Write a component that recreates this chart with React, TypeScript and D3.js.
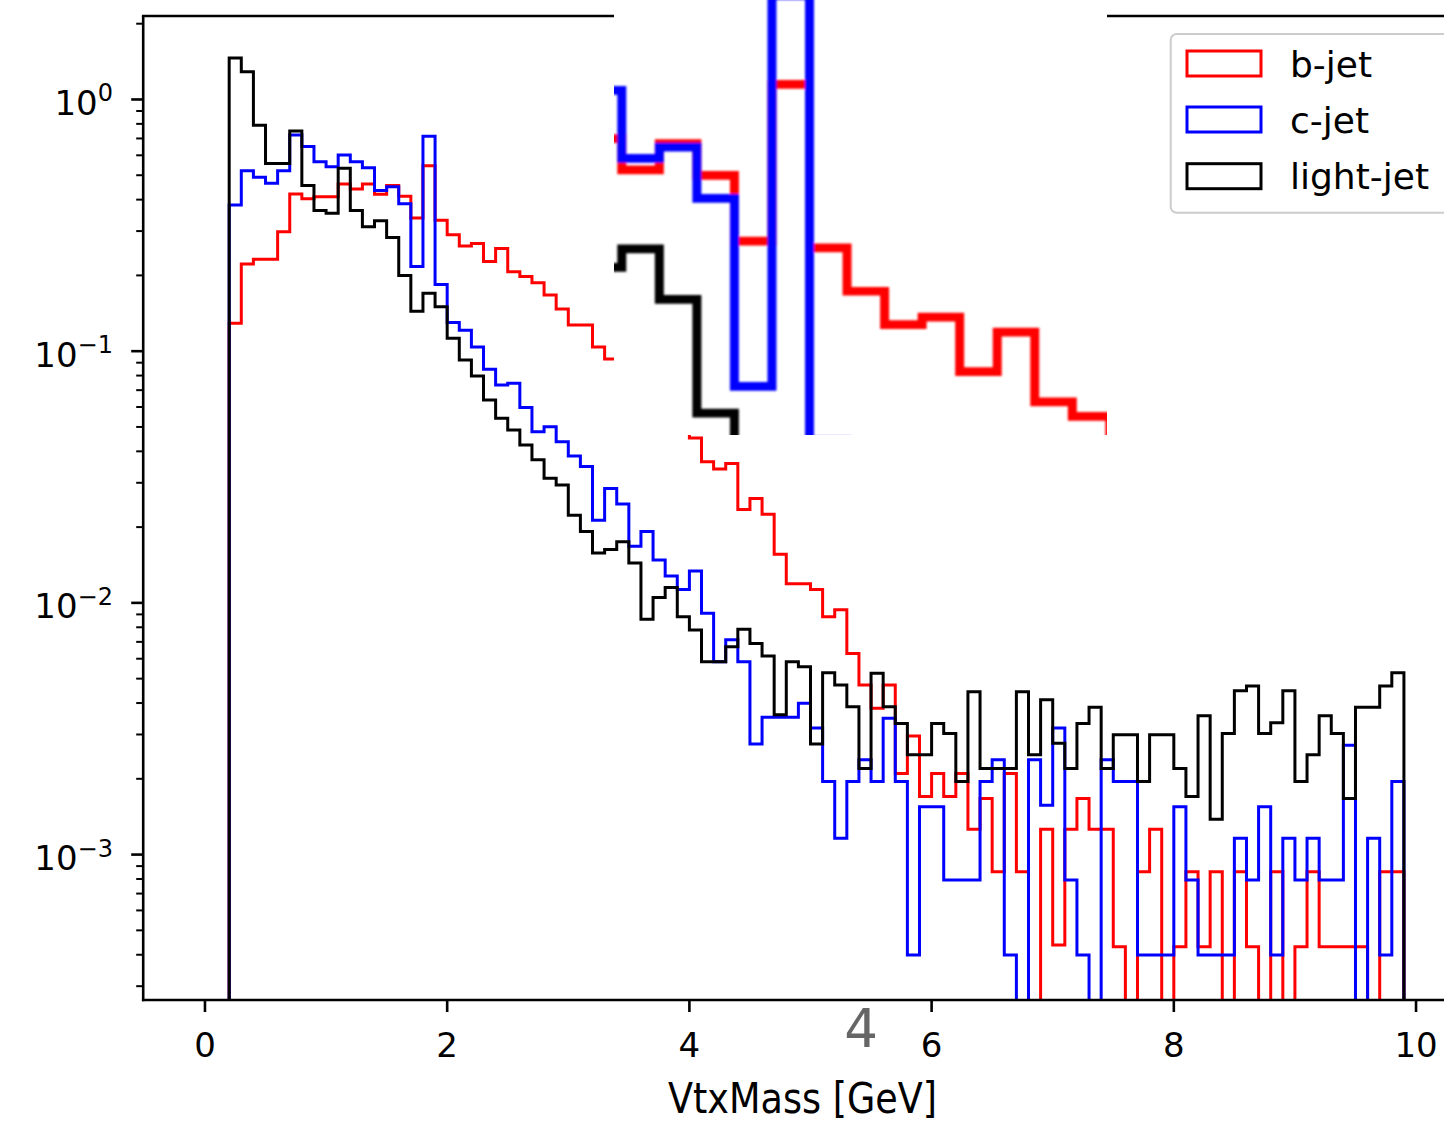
import React from 'react';
import * as d3 from 'd3';

// ---------- data ----------
const categories = ['b-jet', 'c-jet', 'light-jet'];
const seriesColors = ['#ff0000', '#0000ff', '#000000'];
// histogram bin edges (0.2 .. 9.9, width 0.1)
const binEdges = d3.range(98).map((i) => Math.round((0.2 + i * 0.1) * 10) / 10);

const bJet = [
  0.129, 0.222, 0.232, 0.232, 0.298, 0.421, 0.403, 0.411, 0.411, 0.462,
  0.441, 0.462, 0.42, 0.455, 0.413, 0.338, 0.545, 0.331, 0.29, 0.262,
  0.268, 0.227, 0.256, 0.207, 0.198, 0.187, 0.167, 0.147, 0.127, 0.127,
  0.104, 0.093, 0.088, 0.079, 0.072, 0.064, 0.058, 0.052, 0.0452, 0.0364,
  0.034, 0.0358, 0.0235, 0.026, 0.0225, 0.0156, 0.0119, 0.0119, 0.0113, 0.0088,
  0.0094, 0.0063, 0.00472, 0.00381, 0.00472, 0.0021, 0.00296, 0.0017, 0.0021, 0.0017,
  0.0021, 0.00126, 0.00167, 0.000855, 0.0021, 0.000855, 0, 0.00126, 0.000437, 0.00126,
  0.00167, 0.00126, 0.00126, 0.00043, 0, 0.000855, 0.00126, 0, 0.00043, 0.000855,
  0.00043, 0.000855, 0, 0.000855, 0.00043, 0, 0.000855, 0, 0.00043, 0.000855,
  0.00043, 0.00043, 0.00043, 0.00043, 0, 0.000855, 0.000855,
];

const cJet = [
  0.381, 0.521, 0.491, 0.465, 0.521, 0.723, 0.65, 0.566, 0.541, 0.602,
  0.566, 0.535, 0.435, 0.45, 0.385, 0.217, 0.715, 0.184, 0.13, 0.121,
  0.104, 0.0848, 0.0734, 0.0745, 0.0598, 0.0479, 0.0501, 0.0437, 0.0383, 0.0348,
  0.0213, 0.0285, 0.0247, 0.0168, 0.0192, 0.0148, 0.0128, 0.0113, 0.0134, 0.0091,
  0.00584, 0.00713, 0.00584, 0.00275, 0.00351, 0.00351, 0.00351, 0.00399, 0.00318, 0.00195,
  0.00116, 0.00195, 0.00238, 0.00195, 0.00348, 0.00195, 0.000399, 0.00155, 0.00155, 0.000793,
  0.000793, 0.000793, 0.00195, 0.00238, 0.000399, 0, 0.00238, 0.00157, 0.00318, 0.000793,
  0.000399, 0, 0.00238, 0.00195, 0.00195, 0.000399, 0.000399, 0.000399, 0.00155, 0.000793,
  0.000399, 0.000399, 0.000399, 0.00116, 0.000793, 0.00155, 0.000399, 0.00116, 0.000793, 0.00116,
  0.000793, 0.000793, 0.00272, 0, 0.00116, 0.000399, 0.00195,
];

const lightJet = [
  1.46, 1.29, 0.79, 0.557, 0.557, 0.75, 0.455, 0.362, 0.353, 0.533,
  0.362, 0.312, 0.33, 0.283, 0.2, 0.144, 0.17, 0.15, 0.1125, 0.0923,
  0.0797, 0.064, 0.0541, 0.0486, 0.0424, 0.037, 0.0313, 0.0294, 0.0223, 0.0192,
  0.0158, 0.0163, 0.0175, 0.0144, 0.0086, 0.0105, 0.0115, 0.0088, 0.0078, 0.00584,
  0.00584, 0.0067, 0.00785, 0.0069, 0.00615, 0.00359, 0.00584, 0.00558, 0.00275, 0.00528,
  0.00472, 0.00387, 0.0022, 0.00525, 0.00387, 0.00332, 0.00249, 0.00249, 0.00332, 0.00303,
  0.00195, 0.00444, 0.0022, 0.0022, 0.0022, 0.00444, 0.00249, 0.00412, 0.00277, 0.0022,
  0.00332, 0.00385, 0.0022, 0.00299, 0.00299, 0.00195, 0.00299, 0.00299, 0.0022, 0.0017,
  0.00356, 0.00138, 0.00303, 0.00448, 0.00468, 0.00303, 0.00334, 0.00448, 0.00195, 0.00249,
  0.00356, 0.00303, 0.00167, 0.00385, 0.00385, 0.00468, 0.00528,
];

const xTicks = [0, 2, 4, 6, 8, 10];
const yTicks = [1, 0.1, 0.01, 0.001];
const yTickExponents = ['0', '\u22121', '\u22122', '\u22123'];
const xLabel = 'VtxMass [GeV]';
const overlayDigit = '4';

const FONT = '"DejaVu Sans", sans-serif';

export default function App() {
  const W = 1444;
  const H = 1121;
  const left = 143.2;
  const right = 1477.8;
  const top = 16;
  const bottom = 1000;

  const x = d3.scaleLinear().domain([-0.51, 10.51]).range([left, right]);
  const y = d3.scaleLog().domain([2.644e-4, 2.146]).range([bottom, top]);

  const series = [bJet, cJet, lightJet];
  const floorY = bottom + 120;

  const pathFor = (vals: number[]) => {
    const yy = (v: number) => (v > 0 ? y(v) : floorY);
    let d = `M${x(binEdges[0])},${floorY}`;
    vals.forEach((v, i) => {
      d += `L${x(binEdges[i])},${yy(v)}L${x(binEdges[i + 1])},${yy(v)}`;
    });
    d += `L${x(binEdges[vals.length])},${floorY}`;
    return d;
  };
  const paths = series.map(pathFor);

  // minor log ticks
  const minorTicks: number[] = [];
  for (let k = -4; k <= 0; k++) {
    for (let m = 2; m <= 9; m++) {
      const v = m * Math.pow(10, k);
      if (v >= 2.644e-4 && v <= 2.146) minorTicks.push(v);
    }
  }

  // inset: magnified copy of the main plot region
  const inset = { x: 614, y: 0, w: 493, h: 435 };
  const sx = 3.1;
  const sy = 3.0;
  const x0 = 372;
  const y0 = 137.7;

  const legendY = [50, 106, 162.7];

  return (
    <svg
      width={W}
      height={H}
      style={{ position: 'absolute', left: 0, top: 0, background: '#fff' }}
      fontFamily={FONT}
    >
      <defs>
        <clipPath id="plotClip">
          <rect x={left} y={top} width={right - left} height={bottom - top} />
        </clipPath>
        <clipPath id="insetClip">
          <rect x={inset.x} y={inset.y} width={inset.w} height={inset.h} />
        </clipPath>
        <filter id="softMain" x="-5%" y="-5%" width="110%" height="110%">
          <feGaussianBlur stdDeviation="0.45" />
        </filter>
        <filter id="softInset" x="-5%" y="-5%" width="110%" height="110%">
          <feGaussianBlur stdDeviation="1.3" />
        </filter>
      </defs>
      <rect x={0} y={0} width={W} height={H} fill="#fff" />

      {/* histograms */}
      <g clipPath="url(#plotClip)">
        <g filter="url(#softMain)">
          {paths.map((d, i) => (
            <path key={categories[i]} d={d} fill="none" stroke={seriesColors[i]} strokeWidth={3} strokeLinejoin="miter" />
          ))}
        </g>
      </g>

      {/* spines */}
      <g stroke="#000" strokeWidth={2.6} fill="none">
        <line x1={left} y1={top} x2={left} y2={bottom + 1.3} />
        <line x1={left - 1.3} y1={bottom} x2={W} y2={bottom} />
        <line x1={left - 1.3} y1={top} x2={W} y2={top} />
      </g>

      {/* x ticks */}
      {xTicks.map((t) => (
        <g key={t}>
          <line x1={x(t)} x2={x(t)} y1={bottom} y2={bottom + 12} stroke="#000" strokeWidth={2.6} />
          <text x={x(t)} y={1056.5} textAnchor="middle" fontSize={34} fill="#000">
            {t}
          </text>
        </g>
      ))}

      {/* y ticks */}
      {minorTicks.map((v, i) => (
        <line key={'m' + i} x1={left - 7} x2={left} y1={y(v)} y2={y(v)} stroke="#000" strokeWidth={2} />
      ))}
      {yTicks.map((v, i) => (
        <g key={'y' + i}>
          <line x1={left - 12} x2={left} y1={y(v)} y2={y(v)} stroke="#000" strokeWidth={2.6} />
          <text x={113} y={y(v) + 15.5} textAnchor="end" fontSize={34} fill="#000">
            <tspan>10</tspan>
            <tspan dy={-13.5} fontSize={24}>
              {yTickExponents[i]}
            </tspan>
          </text>
        </g>
      ))}

      {/* x label */}
      <text
        x={802.5}
        y={1112.5}
        textAnchor="middle"
        fontSize={42}
        textLength={269}
        lengthAdjust="spacingAndGlyphs"
        fill="#000"
      >
        {xLabel}
      </text>

      {/* overlay digit */}
      <text x={861} y={1047} textAnchor="middle" fontSize={53} fill="#666">
        {overlayDigit}
      </text>

      {/* inset */}
      <rect x={inset.x} y={inset.y} width={inset.w} height={inset.h} fill="#fff" />
      <g clipPath="url(#insetClip)">
        <g filter="url(#softInset)">
          <g transform={`translate(${inset.x - sx * x0},${inset.y - sy * y0}) scale(${sx},${sy})`}>
            {paths.map((d, i) => (
              <path key={'in' + categories[i]} d={d} fill="none" stroke={seriesColors[i]} strokeWidth={2.9} />
            ))}
          </g>
        </g>
      </g>

      {/* legend */}
      <g>
        <rect x={1170.7} y={34} width={320} height={178.7} rx={6} ry={6} fill="#fff" fillOpacity={0.8} stroke="#cccccc" strokeWidth={2} />
        {categories.map((c, i) => (
          <g key={'lg' + c}>
            <rect x={1187} y={legendY[i] + 1} width={74} height={25} fill="none" stroke={seriesColors[i]} strokeWidth={3} />
            <text x={1290} y={legendY[i] + 26.5} fontSize={36} fill="#000">
              {c}
            </text>
          </g>
        ))}
      </g>
    </svg>
  );
}
